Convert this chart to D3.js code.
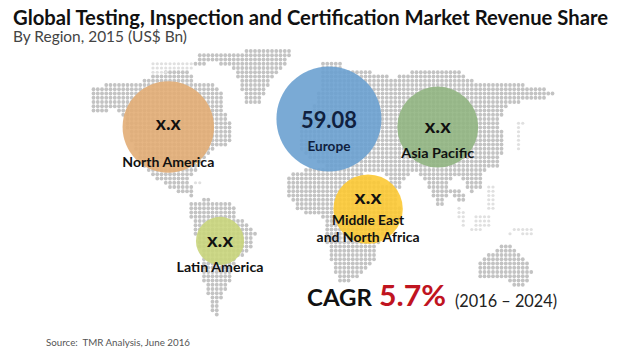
<!DOCTYPE html>
<html>
<head>
<meta charset="utf-8">
<script src="https://cdnjs.cloudflare.com/ajax/libs/d3/7.8.5/d3.min.js"></script>
<style>
html, body { margin: 0; padding: 0; background: #fff; }
#chart { width: 620px; height: 359px; overflow: hidden; }
text { font-family: Lato, "Open Sans", sans-serif; white-space: pre; }
</style>
</head>
<body>
<div id="chart"></div>
<script>
/* CHART VALUES */
var regions = ["North America", "Europe", "Asia Pacific", "Middle East and North Africa", "Latin America"];
var shownValues = ["x.x", "59.08", "x.x", "x.x", "x.x"];
var bubbleValues = [44.8, 59.08, 35.1, 25.8, 12.4];
var regionLon = [-107, 12, 92.6, 41, -68.7];
var regionLat = [44.1, 48.3, 44.1, 1.6, -14.9];
var regionColors = ["#e2ad76", "#6ba1d0", "#91b582", "#fcc934", "#c9d57c"];

/* BASE MAP OUTLINES, in map units */
var land = [
    // north america
    [[90,90],[105,84],[140,84],[150,76],[165,72],[190,70],[196,82],[215,85],[226,100],[222,108],[232,125],[233,142],[222,146],[212,150],[200,165],[190,178],[193,197],[180,192],[165,185],[150,175],[135,150],[125,120],[115,110],[90,112]],
    // greenland
    [[193,68],[200,52],[290,50],[288,62],[272,80],[258,106],[246,106],[240,80],[228,65],[210,62]],
    // south america
    [[187,202],[205,199],[233,203],[235,216],[257,231],[253,245],[235,262],[230,283],[221,300],[219,318],[212,310],[204,283],[200,250],[195,233]],
    // eurasia
    [[322,60],[338,60],[345,72],[372,72],[395,78],[412,71],[430,68],[458,70],[470,80],[490,84],[520,84],[557,92],[540,100],[522,102],[505,108],[498,122],[505,137],[503,152],[497,167],[483,172],[484,190],[470,192],[462,178],[452,176],[443,207],[436,205],[427,183],[415,172],[405,176],[395,200],[385,172],[330,170],[298,150],[300,125],[318,100]],
    // africa
    [[290,172],[320,168],[360,172],[395,190],[403,215],[390,225],[378,245],[375,262],[355,280],[338,282],[328,250],[322,215],[300,212],[285,190]],
    // indochina
    [[450,190],[468,192],[466,203],[452,198]],
    // australia
    [[505,242],[513,247],[525,258],[533,272],[525,285],[515,287],[505,278],[490,279],[477,280],[477,262],[490,253]]
];
var faintLand = [
    [[150,62],[192,60],[192,70],[150,74]],
    [[457,207],[463,207],[465,227],[460,227]],
    [[472,213],[492,213],[490,227],[474,227]],
    [[487,187],[495,187],[495,210],[488,210]],
    [[513,227],[533,229],[533,235],[515,233]],
    [[515,120],[523,120],[522,150],[516,150]],
    [[470,229],[512,231],[512,234],[470,232]],
    [[195,182],[202,182],[202,187],[195,187]]
];

var dotStep = 4.25;

/* CREATE THE SVG CANVAS */
var width = 620;
var height = 359;
var svg = d3.select("#chart")
    .append("svg")
    .attr("width", width)
    .attr("height", height);

svg.append("rect").attr("width", width).attr("height", height).attr("fill", "#fff");

var blur = svg.append("defs").append("filter").attr("id", "soft");
blur.append("feGaussianBlur").attr("stdDeviation", 0.35);

/* SCALES */
var mapX = d3.scaleLinear().domain([0, 620]).range([0, width]);
var mapY = d3.scaleLinear().domain([0, 359]).range([0, height]);
var lonScale = d3.scaleLinear().domain([-165, 180]).range([90, 555.75]);
var latScale = d3.scaleLinear().domain([83, -55]).range([52, 318.3]);
var rScale = d3.scaleSqrt().domain([0, 59.08]).range([0, 52.5]);

/* MAKE THE DOTTED MAP */
function dotsFor(outlines) {
    var dots = [];
    d3.range(0, width, dotStep).forEach(function(x) {
        d3.range(0, height, dotStep).forEach(function(y) {
            var inside = outlines.some(function(o) { return d3.polygonContains(o, [x, y]); });
            if(inside) { dots.push([x, y]); }
        });
    });
    return dots;
}

var dotLayer = svg.append("g").attr("filter", "url(#soft)");

dotLayer.selectAll("circle.land")
    .data(dotsFor(land))
    .enter()
    .append("circle")
        .attr("class", "land")
        .attr("cx", function(d) { return mapX(d[0]); })
        .attr("cy", function(d) { return mapY(d[1]); })
        .attr("r", 1.9)
        .attr("fill", "#c3c3c3");

dotLayer.selectAll("circle.faint")
    .data(dotsFor(faintLand))
    .enter()
    .append("circle")
        .attr("class", "faint")
        .attr("cx", function(d) { return mapX(d[0]); })
        .attr("cy", function(d) { return mapY(d[1]); })
        .attr("r", 1.6)
        .attr("fill", "#e0e0e0");

/* DRAW THE BUBBLES */
svg.selectAll("circle.bubble")
    .data(regions)
    .enter()
    .append("circle")
        .attr("class", "bubble")
        .attr("cx", function(d, i) { return lonScale(regionLon[i]); })
        .attr("cy", function(d, i) { return latScale(regionLat[i]); })
        .attr("r", function(d, i) { return rScale(bubbleValues[i]); })
        .attr("fill", function(d, i) { return regionColors[i]; })
        .attr("fill-opacity", 0.9);

/* BUBBLE TEXT, offsets are from the bubble centre */
var valueDy = [3, 9, 6, -5, 6];
var valueWidth = [25, 56, 26, 27, 26];
var nameLines = [["North America"], ["Europe"], ["Asia Pacific"], ["Middle East", "and North Africa"], ["Latin America"]];
var nameDy = [[40], [32], [31], [16, 33], [31]];
var nameWidth = [[92], [43], [73], [72, 103], [87]];
var inkColors = ["#111", "#10213f", "#111", "#111", "#111"];

regions.forEach(function(r, i) {
    var cx = lonScale(regionLon[i]);
    var cy = latScale(regionLat[i]);

    svg.append("text")
        .attr("x", cx)
        .attr("y", cy + valueDy[i])
        .attr("text-anchor", "middle")
        .attr("font-size", i == 1 ? 22 : 19)
        .attr("font-weight", 700)
        .attr("fill", inkColors[i])
        .attr("textLength", valueWidth[i])
        .attr("lengthAdjust", "spacingAndGlyphs")
        .text(shownValues[i]);

    nameLines[i].forEach(function(line, j) {
        svg.append("text")
            .attr("x", cx)
            .attr("y", cy + nameDy[i][j])
            .attr("text-anchor", "middle")
            .attr("font-size", 13.5)
            .attr("font-weight", 700)
            .attr("fill", inkColors[i])
            .attr("textLength", nameWidth[i][j])
            .attr("lengthAdjust", "spacingAndGlyphs")
            .text(line);
    });
});

/* TITLES AND NOTES */
function addText(x, y, size, weight, color, len, str) {
    return svg.append("text")
        .attr("x", x)
        .attr("y", y)
        .attr("font-size", size)
        .attr("font-weight", weight)
        .attr("fill", color)
        .attr("textLength", len)
        .attr("lengthAdjust", "spacingAndGlyphs")
        .text(str);
}

addText(13, 25, 20, 700, "#111", 595, "Global Testing, Inspection and Certification Market Revenue Share");
addText(13, 42, 14.5, 400, "#444", 174, "By Region, 2015 (US$ Bn)");
addText(307, 306, 22, 700, "#111", 65, "CAGR");
addText(379, 306, 29, 700, "#c0141f", 67, "5.7%");
addText(455, 306.5, 17.5, 400, "#222", 102, "(2016 – 2024)");
addText(46, 346, 9.5, 400, "#555", 144, "Source:  TMR Analysis, June 2016");
</script>
</body>
</html>
